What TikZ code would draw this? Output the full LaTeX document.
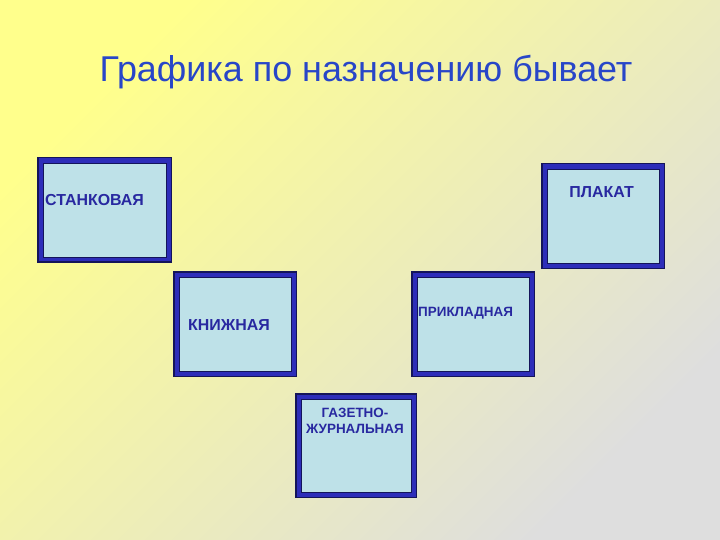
\documentclass[tikz,border=0pt]{standalone}
\usepackage{fontspec}
\setmainfont{Liberation Sans}
\definecolor{bgA}{RGB}{255,255,140}
\definecolor{bgB}{RGB}{222,222,222}
\definecolor{ttl}{RGB}{40,70,200}
\definecolor{band}{RGB}{45,45,185}
\definecolor{dark}{RGB}{20,20,90}
\definecolor{cfill}{RGB}{190,225,232}
\definecolor{txt}{RGB}{40,40,160}
\begin{document}
\begin{tikzpicture}[x=1bp,y=-1bp,
  lbl/.style={text=txt,font=\bfseries\fontsize{16}{18}\selectfont,inner sep=0},
  slbl/.style={text=txt,font=\bfseries\fontsize{13.5}{16}\selectfont,inner sep=0,align=center}]
\shade[top color=bgA,bottom color=bgB,shading angle=45] (0,0) rectangle (720,540);
\useasboundingbox (0,0) rectangle (720,540);
\node[text=ttl,font=\fontsize{36}{40}\selectfont] (t) at (366,72) {Графика по назначению бывает};
\newcommand\cardbox[5]{%
  \fill[dark] (#1,#2) rectangle (#3,#4);
  \fill[band] (#1+1.5,#2+1.5) rectangle (#3-1.5,#4-1.5);
  \draw[dark,fill=cfill,line width=0.8bp] (#1+6,#2+6) rectangle (#3-6,#4-6);
  \coordinate (#5) at ({(#1+#3)/2},{(#2+#4)/2});}
\cardbox{37}{157}{172}{263}{c1}
\cardbox{541}{163}{665}{269}{c2}
\cardbox{173}{271}{297}{377}{c3}
\cardbox{411}{271}{535}{377}{c4}
\cardbox{295}{393}{417}{498}{c5}
\node[lbl,anchor=west] (l1) at (45,200) {СТАНКОВАЯ};
\node[lbl,anchor=east] (l2) at (634,192) {ПЛАКАТ};
\node[lbl,anchor=west] (l3) at (188,325) {КНИЖНАЯ};
\node[slbl,anchor=west] (l4) at (418,313) {ПРИКЛАДНАЯ};
\node[slbl] (l5) at (355,421) {ГАЗЕТНО-\\ЖУРНАЛЬНАЯ};
\end{tikzpicture}
\end{document}
